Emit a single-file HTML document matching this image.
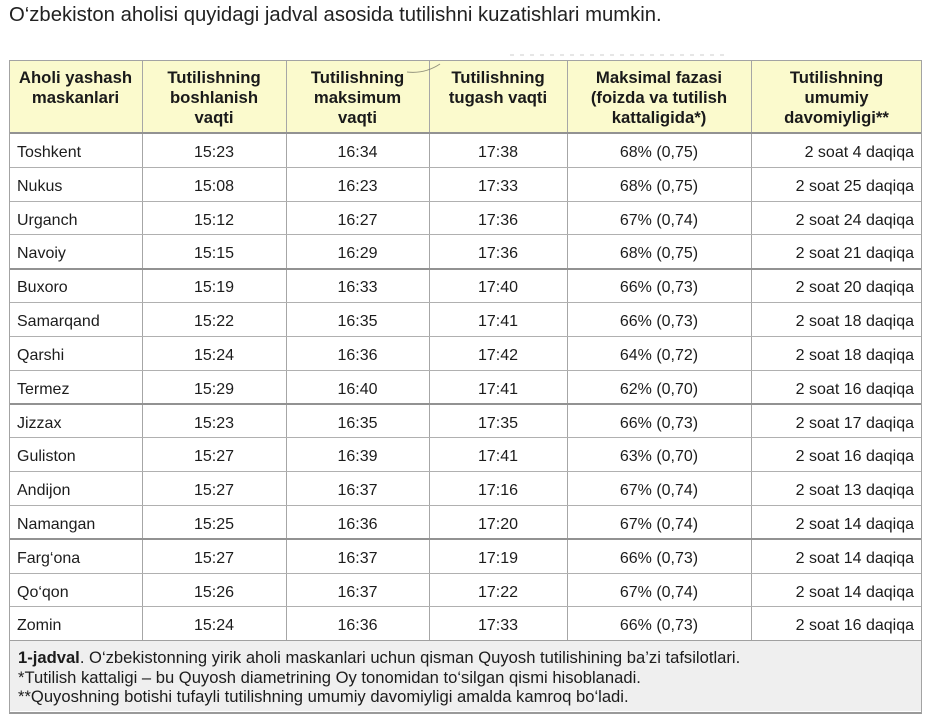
<!DOCTYPE html>
<html><head><meta charset="utf-8">
<style>
html,body{margin:0;padding:0;background:#fff;}
body{width:931px;height:723px;position:relative;overflow:hidden;font-family:"Liberation Sans",Arial,sans-serif;color:#1c1c1c;}
.title{position:absolute;left:9px;top:3px;font-size:20.3px;line-height:24px;white-space:nowrap;color:#222;}
.box{position:absolute;left:9px;top:60px;width:911px;height:651px;border:1px solid #a3a3a3;border-bottom:2px solid #9a9a9a;}
.hdr{position:absolute;left:10px;top:61px;width:911px;height:72px;background:#fbfacd;}
.cap{position:absolute;left:10px;top:641px;width:911px;height:70px;background:#efefef;}
.v{position:absolute;top:61px;height:579px;width:1px;background:#a6a6a6;}
.h{position:absolute;left:10px;width:911px;height:1px;background:#b0b0b0;}
.hk{position:absolute;left:10px;width:911px;height:2px;background:#929292;}
.hc{position:absolute;top:68px;font-weight:bold;font-size:16.7px;line-height:20px;text-align:center;color:#1a1a1a;}
.row{position:absolute;left:9px;width:913px;height:34px;font-size:16px;line-height:39px;white-space:nowrap;}
.row span{position:absolute;top:0;}
.c1{left:8px;}
.c2{left:133px;width:144px;text-align:center;}
.c3{left:277px;width:143px;text-align:center;}
.c4{left:420px;width:138px;text-align:center;}
.c5{left:558px;width:184px;text-align:center;}
.c6{right:8px;text-align:right;}
.ct{position:absolute;left:18px;top:648px;font-size:16.6px;line-height:19.5px;white-space:nowrap;color:#1c1c1c;}
</style></head><body>
<div class="title">O‘zbekiston aholisi quyidagi jadval asosida tutilishni kuzatishlari mumkin.</div>

<div class="hdr"></div>
<div class="cap"></div>
<div class="box"></div>

<div class="v" style="left:142px"></div>
<div class="v" style="left:286px"></div>
<div class="v" style="left:429px"></div>
<div class="v" style="left:567px"></div>
<div class="v" style="left:751px"></div>

<svg style="position:absolute;left:400px;top:52px" width="330" height="40">
<path d="M7 20 Q25 22 40 12" stroke="#7a7a6a" stroke-width="1" fill="none" opacity="0.8"/>
<path d="M110 3 L330 3" stroke="#aaa" stroke-width="1" stroke-dasharray="4 6" fill="none" opacity="0.6"/>
</svg>

<div class="hc" style="left:9px;width:133px">Aholi yashash<br>maskanlari</div>
<div class="hc" style="left:142px;width:144px">Tutilishning<br>boshlanish<br>vaqti</div>
<div class="hc" style="left:286px;width:143px">Tutilishning<br>maksimum<br>vaqti</div>
<div class="hc" style="left:429px;width:138px">Tutilishning<br>tugash vaqti</div>
<div class="hc" style="left:567px;width:184px">Maksimal fazasi<br>(foizda va tutilish<br>kattaligida*)</div>
<div class="hc" style="left:751px;width:171px">Tutilishning<br>umumiy<br>davomiyligi**</div>

<div class="hk" style="top:132px"></div>
<div class="h" style="top:167px"></div>
<div class="h" style="top:201px"></div>
<div class="h" style="top:234px"></div>
<div class="hk" style="top:268px"></div>
<div class="h" style="top:302px"></div>
<div class="h" style="top:336px"></div>
<div class="h" style="top:370px"></div>
<div class="hk" style="top:403px"></div>
<div class="h" style="top:437px"></div>
<div class="h" style="top:471px"></div>
<div class="h" style="top:505px"></div>
<div class="hk" style="top:538px"></div>
<div class="h" style="top:573px"></div>
<div class="h" style="top:606px"></div>
<div class="h" style="top:640px;background:#a0a0a0"></div>

<div class="row" style="top:133px"><span class="c1">Toshkent</span><span class="c2">15:23</span><span class="c3">16:34</span><span class="c4">17:38</span><span class="c5">68% (0,75)</span><span class="c6">2 soat 4 daqiqa</span></div>
<div class="row" style="top:167px"><span class="c1">Nukus</span><span class="c2">15:08</span><span class="c3">16:23</span><span class="c4">17:33</span><span class="c5">68% (0,75)</span><span class="c6">2 soat 25 daqiqa</span></div>
<div class="row" style="top:201px"><span class="c1">Urganch</span><span class="c2">15:12</span><span class="c3">16:27</span><span class="c4">17:36</span><span class="c5">67% (0,74)</span><span class="c6">2 soat 24 daqiqa</span></div>
<div class="row" style="top:234px"><span class="c1">Navoiy</span><span class="c2">15:15</span><span class="c3">16:29</span><span class="c4">17:36</span><span class="c5">68% (0,75)</span><span class="c6">2 soat 21 daqiqa</span></div>
<div class="row" style="top:268px"><span class="c1">Buxoro</span><span class="c2">15:19</span><span class="c3">16:33</span><span class="c4">17:40</span><span class="c5">66% (0,73)</span><span class="c6">2 soat 20 daqiqa</span></div>
<div class="row" style="top:302px"><span class="c1">Samarqand</span><span class="c2">15:22</span><span class="c3">16:35</span><span class="c4">17:41</span><span class="c5">66% (0,73)</span><span class="c6">2 soat 18 daqiqa</span></div>
<div class="row" style="top:336px"><span class="c1">Qarshi</span><span class="c2">15:24</span><span class="c3">16:36</span><span class="c4">17:42</span><span class="c5">64% (0,72)</span><span class="c6">2 soat 18 daqiqa</span></div>
<div class="row" style="top:370px"><span class="c1">Termez</span><span class="c2">15:29</span><span class="c3">16:40</span><span class="c4">17:41</span><span class="c5">62% (0,70)</span><span class="c6">2 soat 16 daqiqa</span></div>
<div class="row" style="top:404px"><span class="c1">Jizzax</span><span class="c2">15:23</span><span class="c3">16:35</span><span class="c4">17:35</span><span class="c5">66% (0,73)</span><span class="c6">2 soat 17 daqiqa</span></div>
<div class="row" style="top:437px"><span class="c1">Guliston</span><span class="c2">15:27</span><span class="c3">16:39</span><span class="c4">17:41</span><span class="c5">63% (0,70)</span><span class="c6">2 soat 16 daqiqa</span></div>
<div class="row" style="top:471px"><span class="c1">Andijon</span><span class="c2">15:27</span><span class="c3">16:37</span><span class="c4">17:16</span><span class="c5">67% (0,74)</span><span class="c6">2 soat 13 daqiqa</span></div>
<div class="row" style="top:505px"><span class="c1">Namangan</span><span class="c2">15:25</span><span class="c3">16:36</span><span class="c4">17:20</span><span class="c5">67% (0,74)</span><span class="c6">2 soat 14 daqiqa</span></div>
<div class="row" style="top:539px"><span class="c1">Farg‘ona</span><span class="c2">15:27</span><span class="c3">16:37</span><span class="c4">17:19</span><span class="c5">66% (0,73)</span><span class="c6">2 soat 14 daqiqa</span></div>
<div class="row" style="top:573px"><span class="c1">Qo‘qon</span><span class="c2">15:26</span><span class="c3">16:37</span><span class="c4">17:22</span><span class="c5">67% (0,74)</span><span class="c6">2 soat 14 daqiqa</span></div>
<div class="row" style="top:606px"><span class="c1">Zomin</span><span class="c2">15:24</span><span class="c3">16:36</span><span class="c4">17:33</span><span class="c5">66% (0,73)</span><span class="c6">2 soat 16 daqiqa</span></div>

<div class="ct"><b>1-jadval</b>. O‘zbekistonning yirik aholi maskanlari uchun qisman Quyosh tutilishining ba’zi tafsilotlari.<br>*Tutilish kattaligi – bu Quyosh diametrining Oy tonomidan to‘silgan qismi hisoblanadi.<br>**Quyoshning botishi tufayli tutilishning umumiy davomiyligi amalda kamroq bo‘ladi.</div>
</body></html>
